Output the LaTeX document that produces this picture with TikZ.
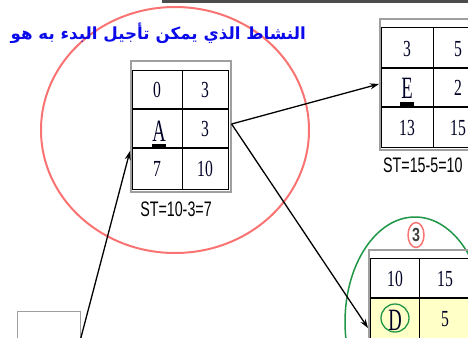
\documentclass[tikz,border=0pt]{standalone}
\usepackage{fontspec}
\setmainfont{Liberation Serif}
\newfontfamily\arabicfont[Script=Arabic]{DejaVu Sans}
\newfontfamily\sansf{Liberation Sans}
\TeXXeTstate=1
\usetikzlibrary{arrows.meta}
\definecolor{ered}{RGB}{250,115,115}
\definecolor{egreen}{RGB}{30,150,70}
\definecolor{eblue}{RGB}{10,10,235}
\definecolor{eyellow}{RGB}{255,255,200}
\newcommand{\nx}[1]{\scalebox{0.68}[1]{#1}}
\begin{document}
\begin{tikzpicture}[x=1pt,y=-1pt,
  frame/.style={draw=gray!75, line width=1.6pt, inner sep=0pt, anchor=north west, minimum width=100pt, minimum height=131pt},
  gridln/.style={draw=black, line width=1pt},
  rowln/.style={draw=black, line width=2.2pt},
  num/.style={font=\fontsize{23}{23}\selectfont, inner sep=0pt, text=black!85!blue},
  big/.style={font=\fontsize{31}{31}\selectfont, inner sep=0pt, text=black!85!blue},
  stlabel/.style={font=\sansf\fontsize{21}{21}\selectfont, inner sep=0pt},
  conn/.style={draw=black, line width=1.3pt, -{Stealth[length=9pt,width=6pt]}}]
\useasboundingbox (0,0) rectangle (468,337);
\clip (0,0) rectangle (468,337);
% top bar
\draw[line width=3.5pt, black!70] (162,1.5) -- (468,1.5);
% red ellipse
\draw[ered, line width=2pt] (175,130) ellipse [x radius=134, y radius=123];
% title
\node[anchor=east, font=\arabicfont\bfseries\fontsize{16.7}{16.7}\selectfont, text=eblue, inner sep=0pt] (title) at (306,33) {\beginR النشاط الذي يمكن تأجيل البدء به هو\endR};
% ---- box A
\node[frame] (A) at (130,60) {};
\draw[gridln] (132,70) rectangle (228,189);
\draw[gridln] (182,70) -- (182,189);
\draw[rowln] (132,109) -- (228,109);
\draw[rowln] (132,148) -- (228,148);
\node[num] (a11) at (157,90) {\nx{0}};
\node[num] (a12) at (205,90) {\nx{3}};
\node[big] (a21) at (159,131) {\scalebox{0.6}[1]{A}};
\fill[black] (152,144) rectangle (166,147.5);
\node[num] (a22) at (205,129) {\nx{3}};
\node[num] (a31) at (157,169) {\nx{7}};
\node[num] (a32) at (205,169) {\nx{10}};
\node[stlabel] (stA) at (176,209) {\scalebox{0.68}[1]{ST=10-3=7}};
% ---- box E
\node[frame] (E) at (379,18) {};
\draw[gridln] (381,28) rectangle (484,147);
\draw[gridln] (433,28) -- (433,147);
\draw[rowln] (381,68) -- (484,68);
\draw[rowln] (381,107) -- (484,107);
\node[num] (e11) at (407,49) {\nx{3}};
\node[num] (e12) at (458,49) {\nx{5}};
\node[big] (e21) at (407,88) {\scalebox{0.6}[1]{E}};
\fill[black] (400,102) rectangle (414,105.5);
\node[num] (e22) at (458,88) {\nx{2}};
\node[num] (e31) at (407,128) {\nx{13}};
\node[num] (e32) at (458,128) {\nx{15}};
\node[stlabel, anchor=west] (stE) at (383,165) {\scalebox{0.68}[1]{ST=15-5=10}};
% ---- box D
\draw[egreen, line width=1.5pt] (415,322) ellipse [x radius=70, y radius=105];
\node[frame] (D) at (368,249) {};
\fill[eyellow] (370,298) rectangle (470,340);
\draw[gridln] (370,258) rectangle (471,380);
\draw[gridln] (419,258) -- (419,380);
\draw[rowln] (370,298) -- (471,298);
\node[num] (d11) at (395,279) {\nx{10}};
\node[num] (d12) at (445,279) {\nx{15}};
\node[big] (d21) at (395,320) {\scalebox{0.6}[1]{D}};
\node[num] (d22) at (445,319) {\nx{5}};
\draw[egreen, line width=1.3pt] (395,318) circle [radius=14];
\node[font=\sansf\bfseries\fontsize{19}{19}\selectfont, text=black!75, inner sep=0pt] (three) at (416,235) {\scalebox{0.75}[1]{3}};
\draw[ered, line width=1.5pt] (three) ellipse [x radius=8, y radius=12.5];
% ---- bottom-left box
\node[draw=gray!75, line width=1.3pt, inner sep=0pt, anchor=north west, minimum width=63pt, minimum height=40pt] (B) at (17,311) {};
\coordinate (src) at (79,345);
% ---- connectors
\draw[conn] (src) -- (A.west |- 0,151);
\draw[conn] (A.east |- 0,124) -- (E.west |- 0,84);
\draw[conn] (A.east |- 0,124) -- (D.west |- 0,328);
\end{tikzpicture}
\end{document}
